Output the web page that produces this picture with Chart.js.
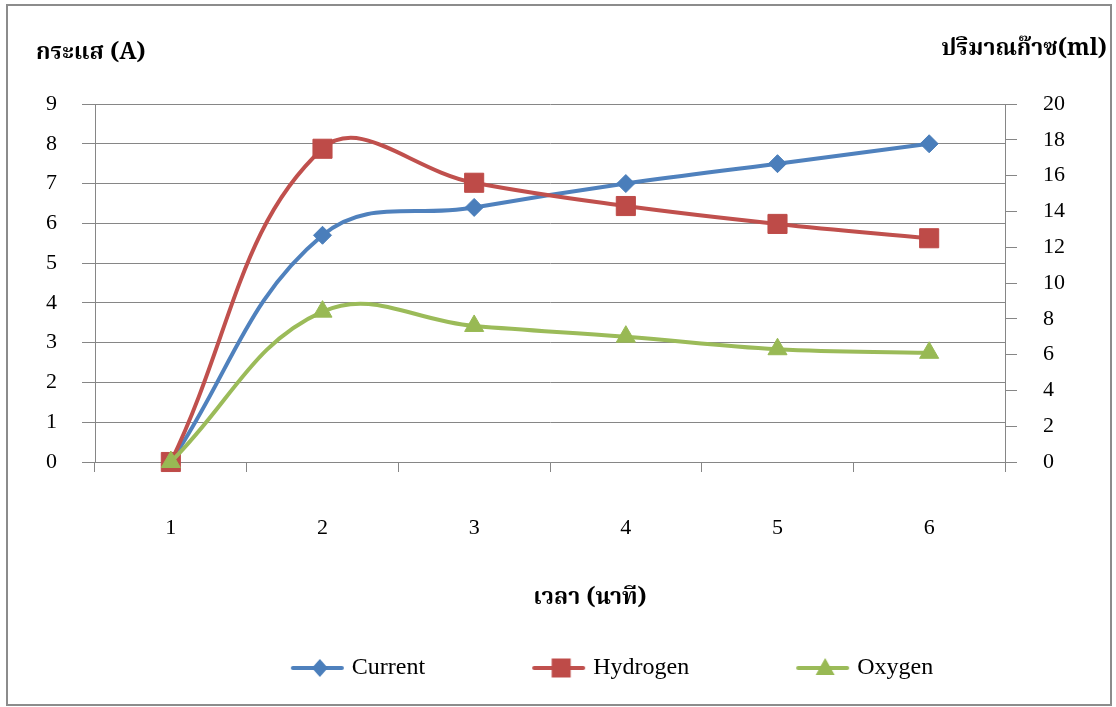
<!DOCTYPE html>
<html>
<head>
<meta charset="utf-8">
<script src="https://cdn.jsdelivr.net/npm/chart.js@4.4.1/dist/chart.umd.min.js"></script>
<style>
  html, body { margin: 0; padding: 0; background: #ffffff; }
  canvas { display: block; }
</style>
</head>
<body>
<canvas id="chart" width="1116" height="707"></canvas>
<script>
// Time in minutes (category axis)
const minutes = ['1', '2', '3', '4', '5', '6'];

// Current in amperes (left axis)
const current = [0, 5.7, 6.4, 7.0, 7.5, 8.0];

// Gas volumes in ml (right axis)
const hydrogen = [0, 17.5, 15.6, 14.3, 13.3, 12.5];
const oxygen = [0, 8.4, 7.6, 7.0, 6.3, 6.1];

// Axis ranges
const currentAxis = { min: 0, max: 9, step: 1 };
const gasAxis = { min: 0, max: 20, step: 2 };

// Titles
const leftTitle = 'กระแส (A)';
const rightTitle = 'ปริมาณก๊าซ(ml)';
const bottomTitle = 'เวลา (นาที)';

const BLUE = '#4a7ebb', BLUE_LINE = '#4f81bd';
const RED = '#be4b48', RED_LINE = '#c0504d';
const GREEN = '#98b954', GREEN_LINE = '#9bbb59';
const GRID = '#868686';
const SERIF = "'Liberation Serif', 'Times New Roman', serif";
const THAI = "'Noto Serif Thai', 'Noto Sans Thai', 'Tlwg Typo', 'Loma', 'Garuda', 'Liberation Serif', serif";

// Legend swatch: a short line with the series marker in the middle
function swatch(lineColor, markerColor, shape) {
  const c = document.createElement('canvas');
  c.width = 170; c.height = 30;
  const g = c.getContext('2d');
  const cy = 15, mx = 138;
  g.strokeStyle = lineColor;
  g.lineWidth = 4;
  g.lineCap = 'round';
  g.beginPath(); g.moveTo(111, cy); g.lineTo(160, cy); g.stroke();
  g.fillStyle = markerColor;
  g.beginPath();
  if (shape === 'diamond') {
    g.moveTo(mx, cy - 9); g.lineTo(mx + 8, cy); g.lineTo(mx, cy + 9); g.lineTo(mx - 8, cy);
  } else if (shape === 'square') {
    g.rect(mx - 9.5, cy - 9.5, 19, 19);
  } else {
    g.moveTo(mx, cy - 10); g.lineTo(mx + 9.5, cy + 7); g.lineTo(mx - 9.5, cy + 7);
  }
  g.closePath();
  g.fill();
  return c;
}

const swatches = [
  swatch(BLUE_LINE, BLUE, 'diamond'),
  swatch(RED_LINE, RED, 'square'),
  swatch(GREEN_LINE, GREEN, 'triangle')
];

// Frame, axis titles
const decorations = {
  id: 'decorations',
  beforeDraw(chart) {
    const ctx = chart.ctx;
    ctx.save();
    ctx.fillStyle = '#ffffff';
    ctx.fillRect(0, 0, chart.width, chart.height);
    ctx.strokeStyle = '#8c8c8c';
    ctx.lineWidth = 2;
    ctx.strokeRect(7, 5, 1104, 700);
    ctx.restore();
  },
  afterDraw(chart) {
    const ctx = chart.ctx;
    ctx.save();
    ctx.fillStyle = '#000000';
    ctx.textBaseline = 'middle';
    ctx.font = 'bold 23px ' + THAI;
    ctx.textAlign = 'left';
    ctx.fillText(leftTitle, 36, 55);
    ctx.textAlign = 'right';
    ctx.fillText(rightTitle, 1107, 51);
    ctx.textAlign = 'center';
    ctx.fillText(bottomTitle, 590, 600);
    ctx.restore();
  }
};

const tickFont = { family: SERIF, size: 22 };

new Chart(document.getElementById('chart'), {
  type: 'line',
  data: {
    labels: minutes,
    datasets: [
      {
        label: 'Current', data: current, yAxisID: 'y', order: 3,
        borderColor: BLUE_LINE, backgroundColor: BLUE,
        pointStyle: 'rectRot', pointRadius: 9,
        pointBackgroundColor: BLUE, pointBorderColor: BLUE, pointBorderWidth: 1
      },
      {
        label: 'Hydrogen', data: hydrogen, yAxisID: 'y1', order: 2,
        borderColor: RED_LINE, backgroundColor: RED,
        pointStyle: 'rect', pointRadius: 13.5,
        pointBackgroundColor: RED, pointBorderColor: RED, pointBorderWidth: 1
      },
      {
        label: 'Oxygen', data: oxygen, yAxisID: 'y1', order: 1,
        borderColor: GREEN_LINE, backgroundColor: GREEN,
        pointStyle: 'triangle', pointRadius: 11,
        pointBackgroundColor: GREEN, pointBorderColor: GREEN, pointBorderWidth: 1
      }
    ]
  },
  options: {
    responsive: false,
    animation: false,
    devicePixelRatio: 1,
    events: [],
    layout: { padding: { left: 11, right: 0, top: 104, bottom: 17 } },
    elements: {
      line: { borderWidth: 4, tension: 0.4, fill: false, capBezierPoints: false },
      point: { hoverRadius: 9 }
    },
    datasets: { line: { clip: false } },
    scales: {
      x: {
        type: 'category',
        offset: true,
        grid: { offset: true, drawOnChartArea: false, drawTicks: true, tickLength: 10, color: GRID, lineWidth: 1 },
        border: { display: true, color: GRID, width: 1 },
        ticks: { font: tickFont, color: '#000', padding: 43, maxRotation: 0 },
        afterFit(scale) { scale.height = 184; }
      },
      y: {
        position: 'left',
        min: currentAxis.min, max: currentAxis.max,
        grid: { color: GRID, lineWidth: 1, tickLength: 13, drawTicks: true },
        border: { display: true, color: GRID, width: 1 },
        ticks: { stepSize: currentAxis.step, font: tickFont, color: '#000', padding: 25 },
        afterFit(scale) { scale.width = 84; }
      },
      y1: {
        position: 'right',
        min: gasAxis.min, max: gasAxis.max,
        grid: { drawOnChartArea: false, color: GRID, lineWidth: 1, tickLength: 12, drawTicks: true },
        border: { display: true, color: GRID, width: 1 },
        ticks: { stepSize: gasAxis.step, font: tickFont, color: '#000', padding: 26 },
        afterFit(scale) { scale.width = 111; }
      }
    },
    plugins: {
      title: { display: false },
      tooltip: { enabled: false },
      legend: {
        display: true,
        position: 'bottom',
        labels: {
          font: { family: SERIF, size: 24 },
          color: '#000',
          padding: 10,
          usePointStyle: true,
          pointStyleWidth: 146,
          sort: (a, b) => a.datasetIndex - b.datasetIndex,
          generateLabels(chart) {
            return chart.data.datasets.map((ds, i) => ({
              text: ds.label,
              datasetIndex: i,
              pointStyle: swatches[i],
              fillStyle: 'transparent',
              strokeStyle: 'transparent',
              lineWidth: 0,
              hidden: false,
              fontColor: '#000'
            }));
          }
        }
      }
    }
  },
  plugins: [decorations]
});
</script>
</body>
</html>
